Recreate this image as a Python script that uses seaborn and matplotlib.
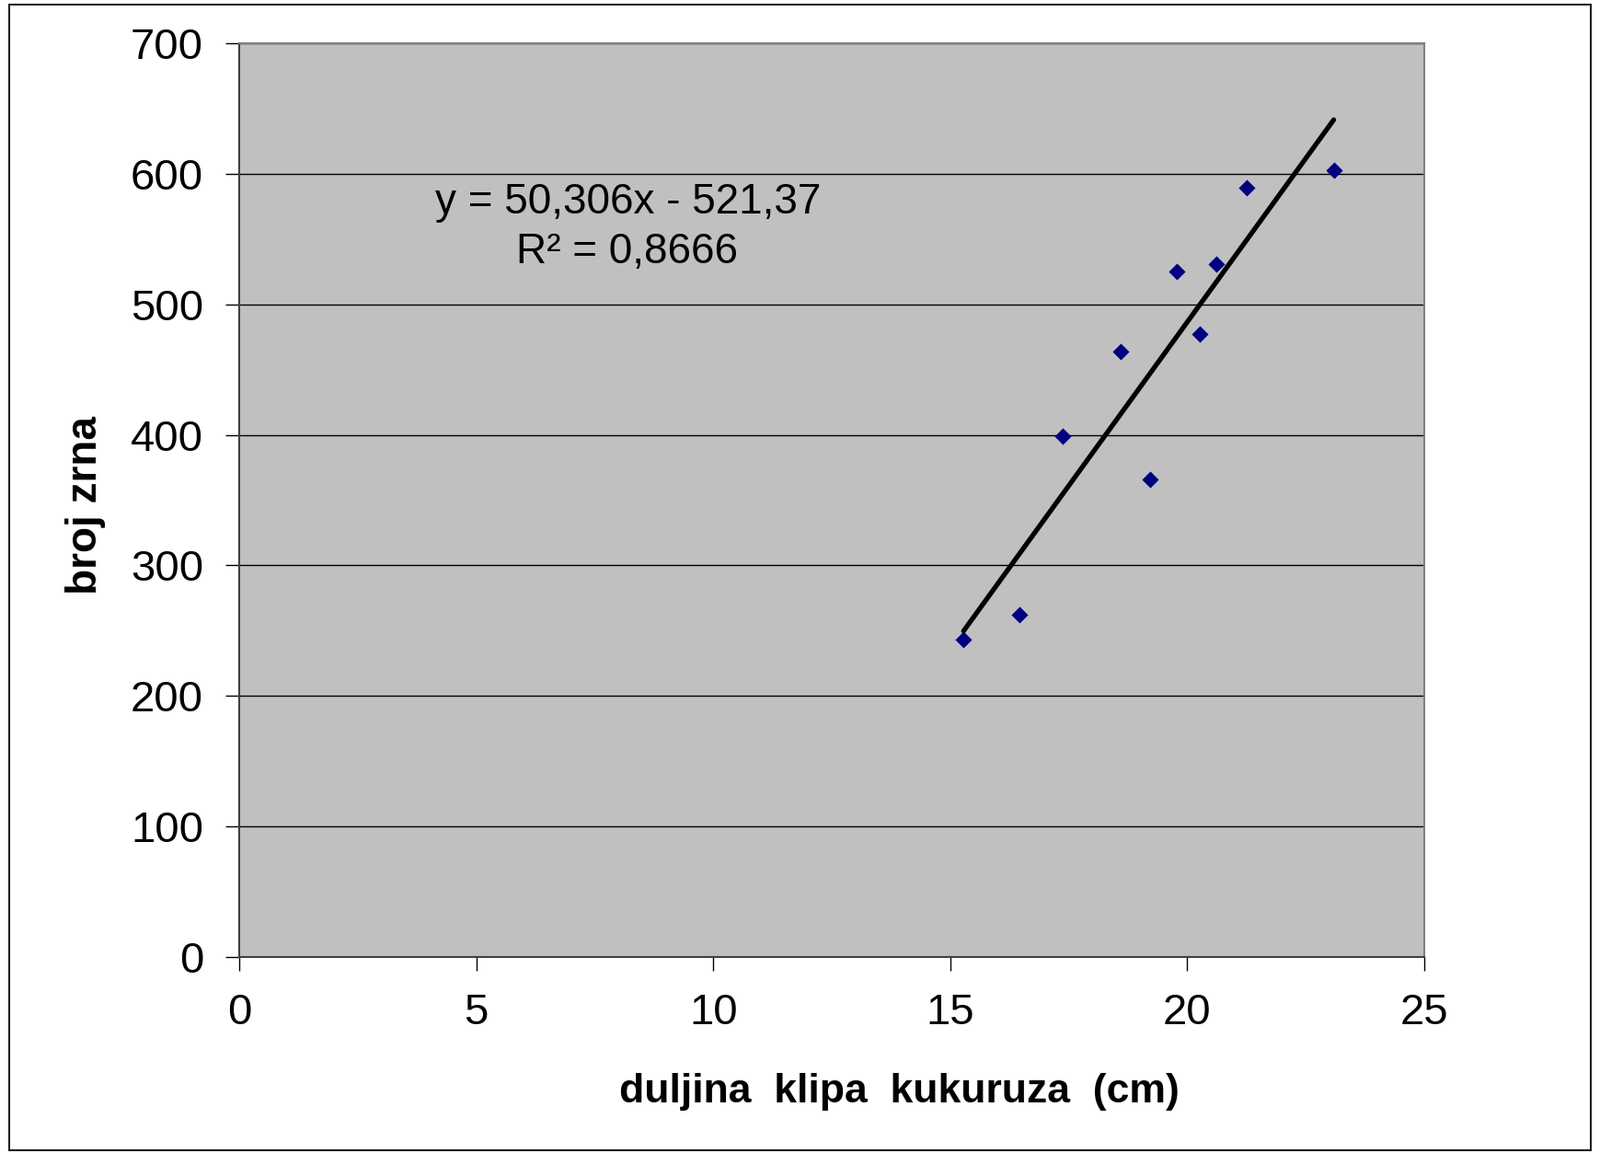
import matplotlib
matplotlib.use("Agg")
import matplotlib.pyplot as plt
import seaborn as sns
import pandas as pd
from matplotlib.patches import Rectangle

# Data
duljina = [15.28, 16.46, 17.38, 18.59, 19.21, 19.77, 20.27, 20.61, 21.26, 23.09]
broj_zrna = [243, 262, 399, 464, 366, 525, 477, 531, 589, 603]
x_ticks = [0, 5, 10, 15, 20, 25]
y_ticks = [0, 100, 200, 300, 400, 500, 600, 700]
equation_line = "y = 50,306x - 521,37"
r2_line = "R² = 0,8666"
x_label = "duljina  klipa  kukuruza  (cm)"
y_label = "broj zrna"

sns.set_style("white")
plt.rcParams['font.family'] = ['Liberation Sans', 'DejaVu Sans']
plt.rcParams['text.color'] = 'black'
plt.rcParams['axes.labelcolor'] = 'black'
plt.rcParams['xtick.color'] = 'black'
plt.rcParams['ytick.color'] = 'black'

df = pd.DataFrame({"x": duljina, "y": broj_zrna})

fig = plt.figure(figsize=(17.39, 12.53), dpi=100)
ax = fig.add_axes([260/1739, 1 - 1040/1253, (1548-260)/1739, (1040-47)/1253])
ax.set_facecolor("#C0C0C0")

sns.regplot(data=df, x="x", y="y", ax=ax, ci=None, truncate=True,
            marker="D",
            scatter_kws=dict(color="#000080", s=85, linewidths=0, zorder=3, alpha=1),
            line_kws=dict(color="black", linewidth=3.8, zorder=4))

ax.set_xlim(0, 25)
ax.set_ylim(0, 700)
ax.set_xticks(x_ticks)
ax.set_yticks(y_ticks)
ax.set_xticklabels([str(v) for v in x_ticks])
ax.set_yticklabels([str(v) for v in y_ticks])

ax.yaxis.grid(True, color="#000000", linewidth=1.0)
ax.xaxis.grid(False)
ax.set_axisbelow(True)

ax.tick_params(axis="both", direction="out", length=11, width=1.0, color="black",
               labelsize=34, labelcolor="black", pad=17, left=True, bottom=True)

for side in ["top", "right"]:
    ax.spines[side].set_color("#808080")
    ax.spines[side].set_linewidth(1.5)
for side in ["left", "bottom"]:
    ax.spines[side].set_color("#404040")
    ax.spines[side].set_linewidth(1.5)

ax.set_xlabel(x_label, fontsize=32, fontweight="bold", va="center")
ax.xaxis.set_label_coords(0.557, -0.148)
ax.set_ylabel(y_label, fontsize=33, fontweight="bold", va="center")
ax.yaxis.set_label_coords(-0.130, 0.494)

ax.text(8.21, 578, equation_line, fontsize=33, ha="center", va="center")
ax.text(8.19, 540, r2_line, fontsize=33, ha="center", va="center")

fig.patches.append(Rectangle((10/1739, 3/1253), (1729-10)/1739, (1249-4)/1253,
                             transform=fig.transFigure, fill=False,
                             edgecolor="#202020", linewidth=1.5))

fig.savefig("out.png", dpi=100, facecolor="white")
